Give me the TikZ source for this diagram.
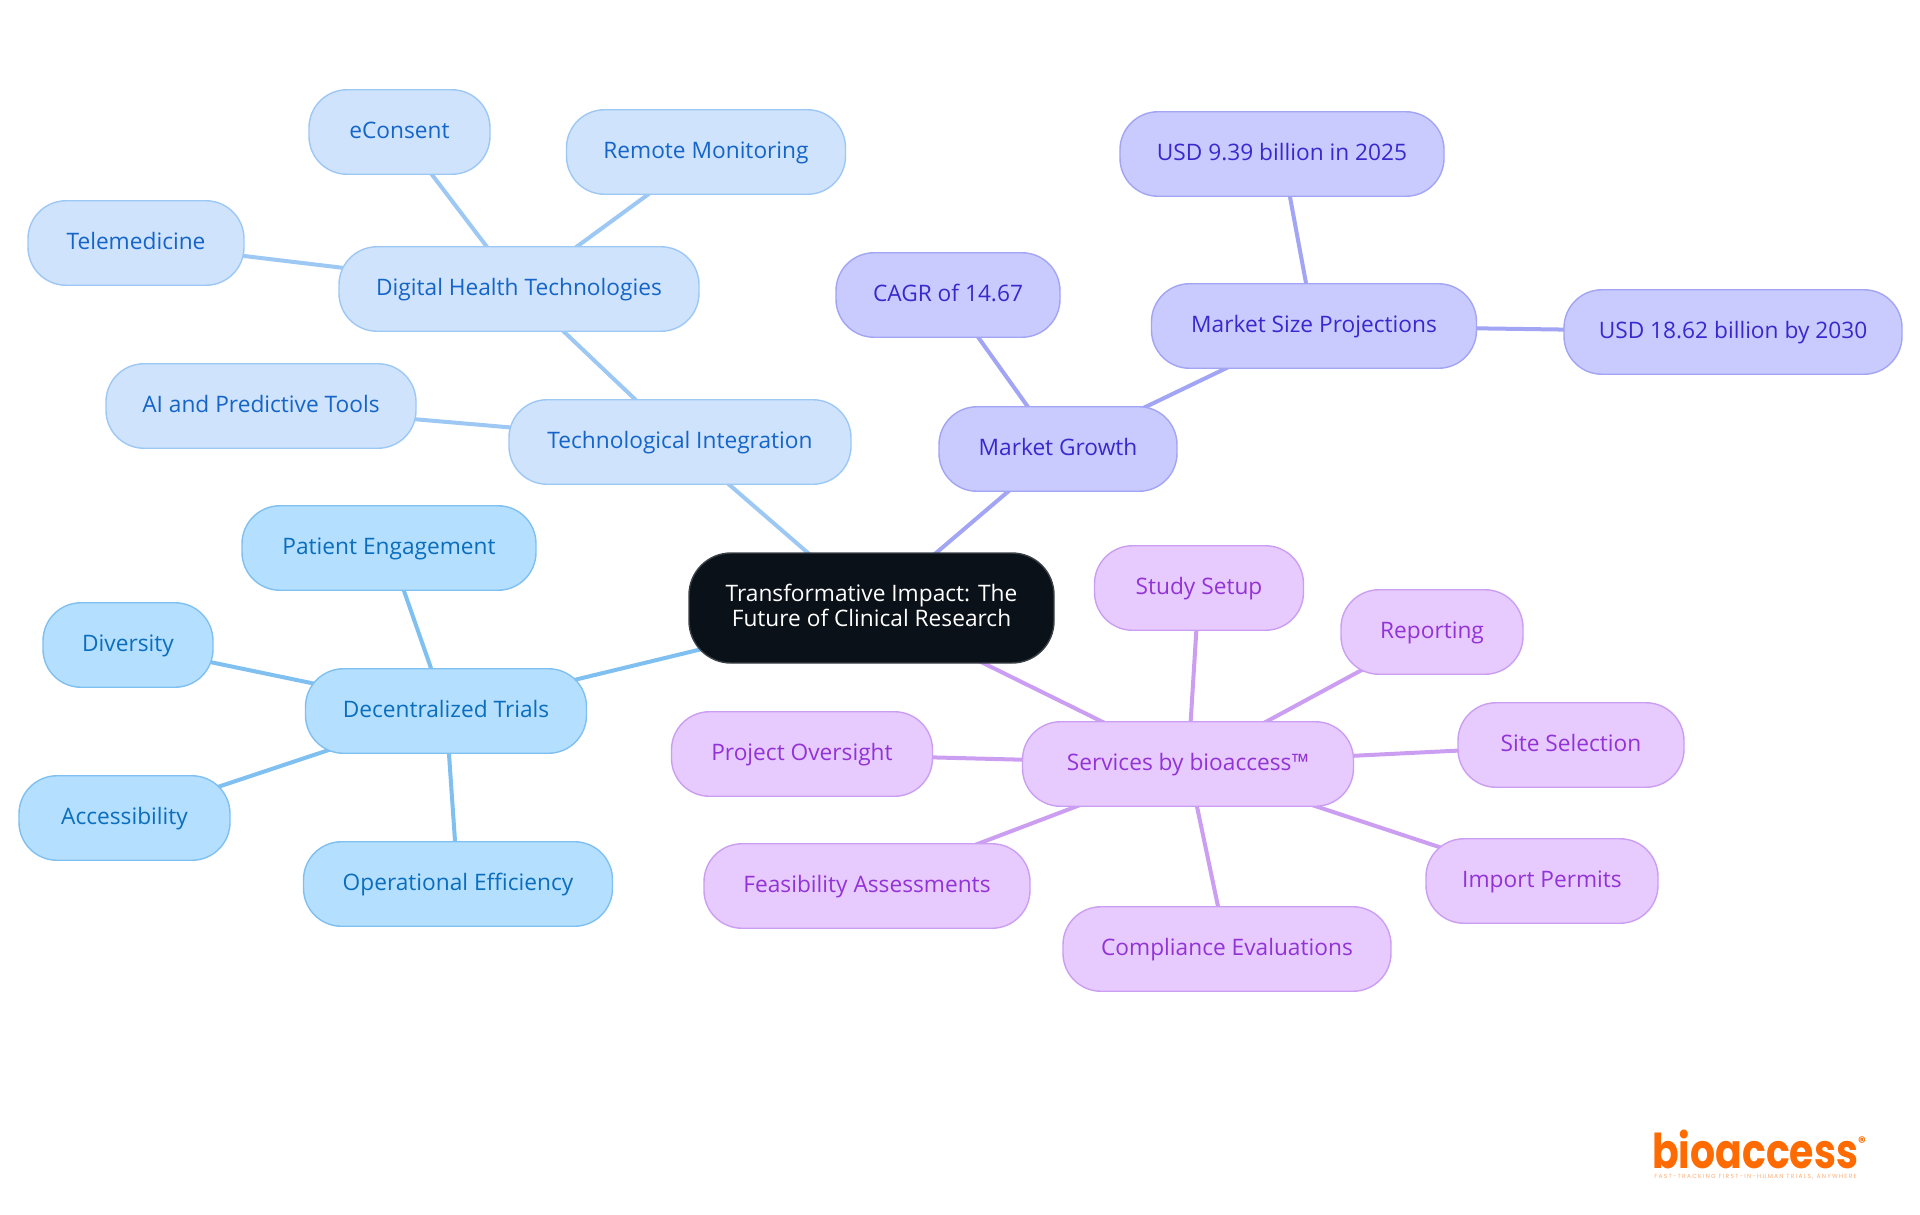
\documentclass[tikz,border=0pt]{standalone}
\usepackage{fontspec}
\setmainfont{Open Sans}
\newfontfamily\logofont{Poppins}[BoldFont={Poppins Bold},BoldFeatures={FakeStretch=0.82}]
\newfontfamily\regfont{Poppins}[BoldFont={Poppins Bold}]
\newfontfamily\tagfont{Poppins}[LetterSpace=22]
\definecolor{rootfill}{HTML}{0B1119}
\definecolor{dfill}{HTML}{B5DFFF}\definecolor{dline}{HTML}{7FC0F0}\definecolor{dtext}{HTML}{0A6EBD}
\definecolor{tfill}{HTML}{CFE3FC}\definecolor{tline}{HTML}{9DC8F4}\definecolor{ttext}{HTML}{1565C8}
\definecolor{mfill}{HTML}{C9CBFF}\definecolor{mline}{HTML}{A2A4F4}\definecolor{mtext}{HTML}{3B28CC}
\definecolor{sfill}{HTML}{E7CBFF}\definecolor{sline}{HTML}{CC9EF1}\definecolor{stext}{HTML}{9333D6}
\definecolor{logoorange}{HTML}{FF6B00}
\pgfdeclarelayer{bglayer}\pgfdeclarelayer{edgelayer}
\pgfsetlayers{bglayer,edgelayer,main}
\tikzset{
  pill/.style={rectangle,rounded corners=38pt,minimum height=84.5pt,inner sep=0pt,outer sep=0pt,
    line width=1.4pt,align=center,font=\fontsize{22.7}{25}\selectfont},
  leafpill/.style={pill,text height=16.5pt,text depth=4pt},
  dnode/.style={leafpill,fill=dfill,draw=dline,text=dtext},
  tnode/.style={leafpill,fill=tfill,draw=tline,text=ttext},
  mnode/.style={leafpill,fill=mfill,draw=mline,text=mtext},
  snode/.style={leafpill,fill=sfill,draw=sline,text=stext},
  rootnode/.style={pill,fill=rootfill,draw=rootfill!80!white,text=white,minimum height=110pt,rounded corners=42pt,text depth=6pt},
  dedge/.style={draw=dline,line width=4pt},
  tedge/.style={draw=tline,line width=4pt},
  medge/.style={draw=mline,line width=4pt},
  sedge/.style={draw=sline,line width=4pt},
}
\begin{document}
\begin{tikzpicture}[x=1pt,y=-1pt]
\useasboundingbox (0,0) rectangle (1920,1215);
\begin{pgfonlayer}{bglayer}
\fill[white] (0,0) rectangle (1920,1215);
\end{pgfonlayer}
\begin{scope}[yshift=-1pt]
\node[rootnode,minimum width=365pt] (root) at (871.5,607) {Transformative Impact: The\\Future of Clinical Research};
% technological
\node[tnode,minimum width=342pt] (tech) at (680,441) {Technological Integration};
\node[tnode,minimum width=360pt] (digital) at (519,288) {Digital Health Technologies};
\node[tnode,minimum width=181pt] (econsent) at (399.5,131) {eConsent};
\node[tnode,minimum width=279pt] (remote) at (706,151) {Remote Monitoring};
\node[tnode,minimum width=216pt] (tele) at (136,242) {Telemedicine};
\node[tnode,minimum width=310pt] (ai) at (261,405) {AI and Predictive Tools};
% market
\node[mnode,minimum width=238pt] (market) at (1058,448) {Market Growth};
\node[mnode,minimum width=224pt] (cagr) at (948,294) {CAGR of 14.67};
\node[mnode,minimum width=325pt] (msize) at (1314,325) {Market Size Projections};
\node[mnode,minimum width=324pt] (usda) at (1282,153) {USD 9.39 billion in 2025};
\node[mnode,minimum width=338pt] (usdb) at (1733,331) {USD 18.62 billion by 2030};
% decentralized
\node[dnode,minimum width=281pt] (dec) at (446,710) {Decentralized Trials};
\node[dnode,minimum width=294pt] (patient) at (389,547) {Patient Engagement};
\node[dnode,minimum width=170pt] (diversity) at (128,644) {Diversity};
\node[dnode,minimum width=211pt] (access) at (124.5,817) {Accessibility};
\node[dnode,minimum width=309pt] (oper) at (458,883) {Operational Efficiency};
% services
\node[snode,minimum width=331pt] (serv) at (1188,763) {Services by bioaccess™};
\node[snode,minimum width=209pt] (study) at (1199,587) {Study Setup};
\node[snode,minimum width=182pt] (report) at (1432,631) {Reporting};
\node[snode,minimum width=226pt] (site) at (1571,744) {Site Selection};
\node[snode,minimum width=232pt] (import) at (1542,880) {Import Permits};
\node[snode,minimum width=328pt] (compl) at (1227,948) {Compliance Evaluations};
\node[snode,minimum width=326pt] (feas) at (867,885) {Feasibility Assessments};
\node[snode,minimum width=261pt] (proj) at (802,753) {Project Oversight};
\end{scope}
\begin{pgfonlayer}{edgelayer}
\draw[tedge] (root.center) -- (tech.center);
\draw[tedge] (tech.center) -- (digital.center);
\draw[tedge] (tech.center) -- (ai.center);
\draw[tedge] (digital.center) -- (econsent.center);
\draw[tedge] (digital.center) -- (remote.center);
\draw[tedge] (digital.center) -- (tele.center);
\draw[medge] (root.center) -- (market.center);
\draw[medge] (market.center) -- (cagr.center);
\draw[medge] (market.center) -- (msize.center);
\draw[medge] (msize.center) -- (usda.center);
\draw[medge] (msize.center) -- (usdb.center);
\draw[dedge] (root.center) -- (dec.center);
\draw[dedge] (dec.center) -- (patient.center);
\draw[dedge] (dec.center) -- (diversity.center);
\draw[dedge] (dec.center) -- (access.center);
\draw[dedge] (dec.center) -- (oper.center);
\draw[sedge] (root.center) -- (serv.center);
\draw[sedge] (serv.center) -- (study.center);
\draw[sedge] (serv.center) -- (report.center);
\draw[sedge] (serv.center) -- (site.center);
\draw[sedge] (serv.center) -- (import.center);
\draw[sedge] (serv.center) -- (compl.center);
\draw[sedge] (serv.center) -- (feas.center);
\draw[sedge] (serv.center) -- (proj.center);
\end{pgfonlayer}
% logo
\node[anchor=base,inner sep=0pt,text=logoorange,font=\logofont\bfseries\fontsize{48}{48}\selectfont] (logo) at (1755,1168) {bioaccess};
\node[inner sep=0pt,text=logoorange,font=\regfont\bfseries\fontsize{15}{15}\selectfont] (reg) at (1862,1142) {®};
\node[inner sep=0pt,text=logoorange!55!white,font=\tagfont\fontsize{5.9}{7}\selectfont] (tag) at (1755.5,1177) {FAST-TRACKING FIRST-IN-HUMAN TRIALS, ANYWHERE};
\end{tikzpicture}
\end{document}
